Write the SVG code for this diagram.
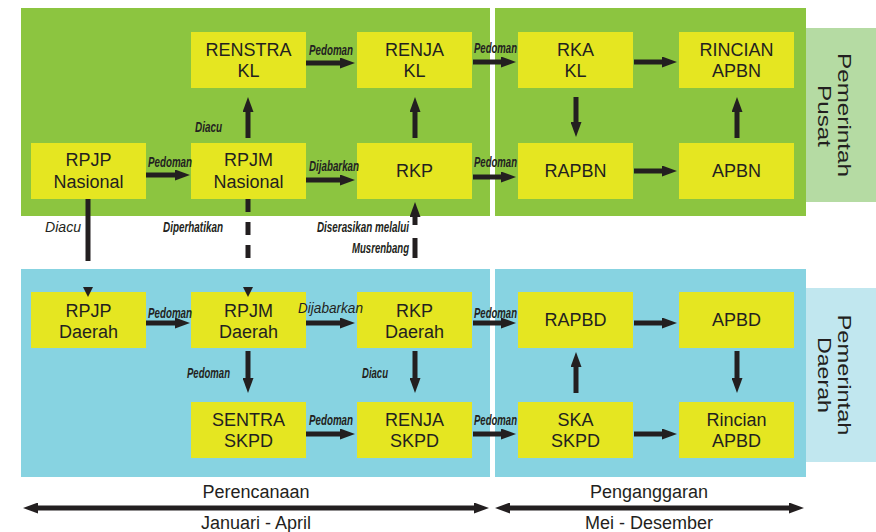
<svg xmlns="http://www.w3.org/2000/svg" width="876" height="532" viewBox="0 0 876 532">
<style>
.pg{fill:#8cc540}
.pb{fill:#87d3e1}
.node rect{fill:#e5e621}
.node text,.t{font-family:"Liberation Sans",Arial,sans-serif;font-size:18px;fill:#231f20;text-anchor:middle}
.lb{font-family:"Liberation Sans",Arial,sans-serif;font-size:14px;font-weight:bold;font-style:italic;fill:#231f20}
.li{font-family:"Liberation Sans",Arial,sans-serif;font-size:14px;font-style:italic;fill:#231f20}
.side{font-family:"Liberation Sans",Arial,sans-serif;font-size:18px;fill:#231f20;text-anchor:middle}
.c line{stroke:#231f20;stroke-width:5;fill:none}
.c line.a{marker-end:url(#ah)}
.c line.d{marker-start:url(#ah);marker-end:url(#ah)}
.c polygon{fill:#231f20}
</style>
<defs>
<marker id="ah" markerUnits="userSpaceOnUse" markerWidth="15" markerHeight="11" refX="1" refY="5.5" orient="auto-start-reverse">
<path d="M0,0 L15,5.5 L0,11 z" fill="#231f20"/>
</marker>
</defs>
<rect width="876" height="532" fill="#ffffff"/>
<g id="panels">
<rect class="pg" x="21" y="8" width="469" height="208"/>
<rect class="pg" x="495" y="8" width="311" height="208"/>
<rect x="806" y="28" width="70" height="174" fill="#b5dba3"/>
<rect class="pb" x="21" y="269" width="469" height="208"/>
<rect class="pb" x="495" y="269" width="311" height="208"/>
<rect x="806" y="288" width="70" height="174" fill="#c1e7ef"/>
<g transform="translate(838,115) rotate(90)"><text class="side" x="0" y="0" textLength="124" lengthAdjust="spacingAndGlyphs">Pemerintah</text></g>
<g transform="translate(818,116) rotate(90)"><text class="side" x="0" y="0" textLength="62" lengthAdjust="spacingAndGlyphs">Pusat</text></g>
<g transform="translate(838,375) rotate(90)"><text class="side" x="0" y="0" textLength="121" lengthAdjust="spacingAndGlyphs">Pemerintah</text></g>
<g transform="translate(818,375) rotate(90)"><text class="side" x="0" y="0" textLength="76" lengthAdjust="spacingAndGlyphs">Daerah</text></g>
</g>
<g id="renstra-kl" class="node"><rect x="191" y="32" width="115" height="56"/><text x="248.5" y="56">RENSTRA</text><text x="248.5" y="77">KL</text></g>
<g id="renja-kl" class="node"><rect x="357" y="32" width="115" height="56"/><text x="414.5" y="56">RENJA</text><text x="414.5" y="77">KL</text></g>
<g id="rka-kl" class="node"><rect x="518" y="32" width="115" height="56"/><text x="575.5" y="56">RKA</text><text x="575.5" y="77">KL</text></g>
<g id="rincian-apbn" class="node"><rect x="679" y="32" width="115" height="56"/><text x="736.5" y="56">RINCIAN</text><text x="736.5" y="77">APBN</text></g>
<g id="rpjp-nasional" class="node"><rect x="31" y="143" width="115" height="56"/><text x="88.5" y="166">RPJP</text><text x="88.5" y="188">Nasional</text></g>
<g id="rpjm-nasional" class="node"><rect x="191" y="143" width="115" height="56"/><text x="248.5" y="166">RPJM</text><text x="248.5" y="188">Nasional</text></g>
<g id="rkp" class="node"><rect x="357" y="143" width="115" height="56"/><text x="414.5" y="177">RKP</text></g>
<g id="rapbn" class="node"><rect x="518" y="143" width="115" height="56"/><text x="575.5" y="177">RAPBN</text></g>
<g id="apbn" class="node"><rect x="679" y="143" width="115" height="56"/><text x="736.5" y="177">APBN</text></g>
<g id="rpjp-daerah" class="node"><rect x="31" y="292" width="115" height="56"/><text x="88.5" y="317">RPJP</text><text x="88.5" y="338">Daerah</text></g>
<g id="rpjm-daerah" class="node"><rect x="191" y="292" width="115" height="56"/><text x="248.5" y="317">RPJM</text><text x="248.5" y="338">Daerah</text></g>
<g id="rkp-daerah" class="node"><rect x="357" y="292" width="115" height="56"/><text x="414.5" y="317">RKP</text><text x="414.5" y="338">Daerah</text></g>
<g id="rapbd" class="node"><rect x="518" y="292" width="115" height="56"/><text x="575.5" y="326">RAPBD</text></g>
<g id="apbd" class="node"><rect x="679" y="292" width="115" height="56"/><text x="736.5" y="326">APBD</text></g>
<g id="sentra-skpd" class="node"><rect x="191" y="402" width="115" height="56"/><text x="248.5" y="426">SENTRA</text><text x="248.5" y="447">SKPD</text></g>
<g id="renja-skpd" class="node"><rect x="357" y="402" width="115" height="56"/><text x="414.5" y="426">RENJA</text><text x="414.5" y="447">SKPD</text></g>
<g id="ska-skpd" class="node"><rect x="518" y="402" width="115" height="56"/><text x="575.5" y="426">SKA</text><text x="575.5" y="447">SKPD</text></g>
<g id="rincian-apbd" class="node"><rect x="679" y="402" width="115" height="56"/><text x="736.5" y="426">Rincian</text><text x="736.5" y="447">APBD</text></g>
<g id="connectors" class="c">
<line class="a" x1="306" y1="63" x2="341" y2="63"/>
<line class="a" x1="146" y1="175" x2="176" y2="175"/>
<line class="a" x1="306" y1="180" x2="341" y2="180"/>
<line class="a" x1="248" y1="138" x2="248" y2="111"/>
<line class="a" x1="415" y1="138" x2="415" y2="111"/>
<line class="a" x1="473" y1="62" x2="502" y2="62"/>
<line class="a" x1="634" y1="62" x2="663" y2="62"/>
<line class="a" x1="576" y1="97" x2="576" y2="123"/>
<line class="a" x1="737" y1="138" x2="737" y2="111"/>
<line class="a" x1="473" y1="177" x2="502" y2="177"/>
<line class="a" x1="634" y1="171" x2="663" y2="171"/>
<line x1="88" y1="199" x2="88" y2="261"/>
<polygon points="83,287 93,287 88,297"/>
<line x1="248" y1="199" x2="248" y2="212"/>
<line x1="248" y1="222" x2="248" y2="235"/>
<line x1="248" y1="245" x2="248" y2="258"/>
<polygon points="243,287 253,287 248,297"/>
<line x1="415" y1="238" x2="415" y2="258"/>
<line class="a" x1="415" y1="225" x2="415" y2="216"/>
<line class="a" x1="146" y1="323" x2="176" y2="323"/>
<line class="a" x1="306" y1="323" x2="341" y2="323"/>
<line class="a" x1="473" y1="323" x2="502" y2="323"/>
<line class="a" x1="634" y1="323" x2="663" y2="323"/>
<line class="a" x1="248" y1="351" x2="248" y2="379"/>
<line class="a" x1="415" y1="351" x2="415" y2="379"/>
<line class="a" x1="576" y1="393" x2="576" y2="366"/>
<line class="a" x1="737" y1="351" x2="737" y2="379"/>
<line class="a" x1="306" y1="434" x2="341" y2="434"/>
<line class="a" x1="473" y1="434" x2="502" y2="434"/>
<line class="a" x1="634" y1="434" x2="663" y2="434"/>
<line class="d" x1="37" y1="508" x2="475" y2="508"/>
<line class="d" x1="509" y1="508" x2="790" y2="508"/>
</g>
<g id="labels">
<text class="lb" x="309" y="55" textLength="44" lengthAdjust="spacingAndGlyphs">Pedoman</text>
<text class="lb" x="195" y="132" textLength="27" lengthAdjust="spacingAndGlyphs">Diacu</text>
<text class="lb" x="148" y="167" textLength="44" lengthAdjust="spacingAndGlyphs">Pedoman</text>
<text class="lb" x="309" y="171" textLength="50" lengthAdjust="spacingAndGlyphs">Dijabarkan</text>
<text class="lb" x="474" y="53" textLength="43" lengthAdjust="spacingAndGlyphs">Pedoman</text>
<text class="lb" x="474" y="167" textLength="43" lengthAdjust="spacingAndGlyphs">Pedoman</text>
<text class="li" x="45" y="232" textLength="36" lengthAdjust="spacingAndGlyphs">Diacu</text>
<text class="lb" x="163" y="232" textLength="60" lengthAdjust="spacingAndGlyphs">Diperhatikan</text>
<text class="lb" x="317" y="232" textLength="92" lengthAdjust="spacingAndGlyphs">Diserasikan melalui</text>
<text class="lb" x="352" y="253" textLength="57" lengthAdjust="spacingAndGlyphs">Musrenbang</text>
<text class="lb" x="148" y="318" textLength="44" lengthAdjust="spacingAndGlyphs">Pedoman</text>
<text class="li" x="298" y="313" textLength="65" lengthAdjust="spacingAndGlyphs">Dijabarkan</text>
<text class="lb" x="474" y="318" textLength="43" lengthAdjust="spacingAndGlyphs">Pedoman</text>
<text class="lb" x="187" y="378" textLength="43" lengthAdjust="spacingAndGlyphs">Pedoman</text>
<text class="lb" x="362" y="378" textLength="26" lengthAdjust="spacingAndGlyphs">Diacu</text>
<text class="lb" x="309" y="425" textLength="44" lengthAdjust="spacingAndGlyphs">Pedoman</text>
<text class="lb" x="474" y="425" textLength="43" lengthAdjust="spacingAndGlyphs">Pedoman</text>
<text class="t" x="256" y="498">Perencanaan</text>
<text class="t" x="256" y="529">Januari - April</text>
<text class="t" x="649" y="498">Penganggaran</text>
<text class="t" x="649" y="529">Mei - Desember</text>
</g>
</svg>
